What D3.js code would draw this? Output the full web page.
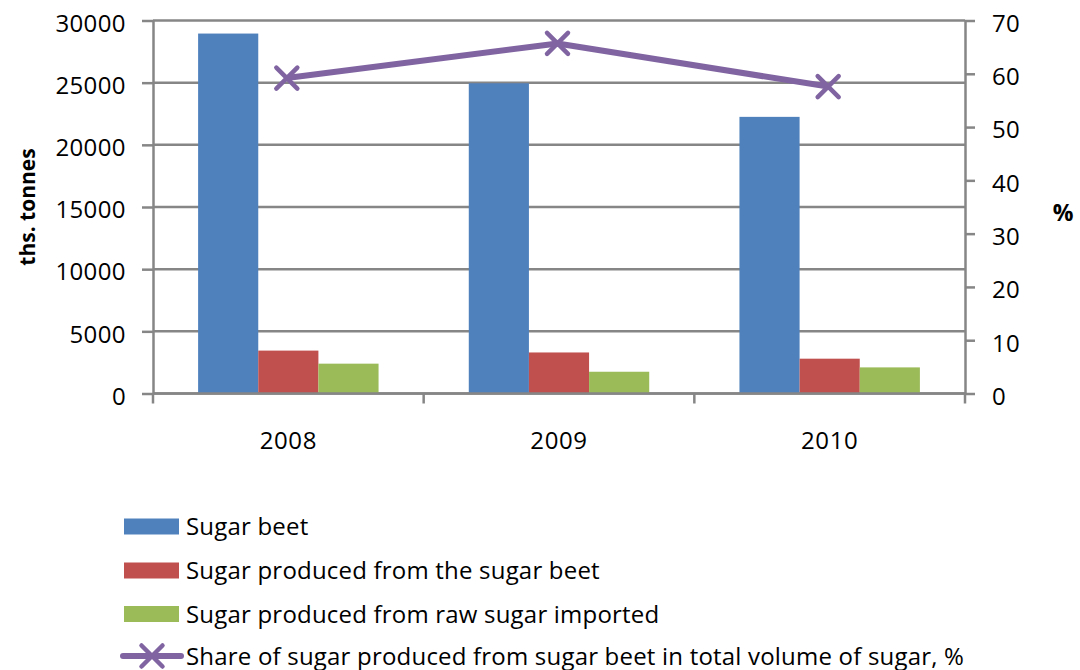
<!DOCTYPE html>
<html>
<head>
<meta charset="utf-8">
<script src="https://cdn.jsdelivr.net/npm/d3@7"></script>
<style>
  body { margin: 0; background: #fff; }
  svg text { font-family: 'Open Sans', sans-serif; fill: #000; }
</style>
</head>
<body>
<div id="chart"></div>
<script>
const years = ['2008', '2009', '2010'];
const seriesNames = [
  'Sugar beet',
  'Sugar produced from the sugar beet',
  'Sugar produced from raw sugar imported'
];
const sugarBeet = [28950, 24950, 22250];
const sugarFromBeet = [3450, 3300, 2800];
const sugarFromRaw = [2400, 1750, 2100];
const shareName = 'Share of sugar produced from sugar beet in total volume of sugar, %';
const shareValues = [59.2, 65.7, 57.6];
const leftTicks = [0, 5000, 10000, 15000, 20000, 25000, 30000];
const rightTicks = [0, 10, 20, 30, 40, 50, 60, 70];

const colors = ['#4F81BD', '#C0504D', '#9BBB59'];
const lineColor = '#8064A2';
const axisColor = '#868686';

const width = 1080;
const height = 670;
const plot = { left: 153, right: 965, top: 20.5, bottom: 393.5 };

const svg = d3.select('#chart')
  .append('svg')
    .attr('width', width)
    .attr('height', height);

svg.append('rect')
  .attr('width', width)
  .attr('height', height)
  .attr('fill', '#fff');

// scales
const x0 = d3.scaleBand()
  .domain(years)
  .range([plot.left, plot.right]);
const x1 = d3.scaleBand()
  .domain(seriesNames)
  .range([0, x0.bandwidth()])
  .paddingInner(0)
  .paddingOuter(0.75);
const y = d3.scaleLinear()
  .domain([0, 30000])
  .range([plot.bottom, plot.top]);
const y2 = d3.scaleLinear()
  .domain([0, 70])
  .range([plot.bottom, plot.top]);

// gridlines
svg.append('g')
  .selectAll('line')
  .data(leftTicks)
  .enter().append('line')
    .attr('x1', plot.left)
    .attr('x2', plot.right)
    .attr('y1', (d) => y(d))
    .attr('y2', (d) => y(d))
    .attr('stroke', axisColor)
    .attr('stroke-width', 2.5);

// bars
const bars = years.map((yr, i) => [
  { year: yr, name: seriesNames[0], value: sugarBeet[i] },
  { year: yr, name: seriesNames[1], value: sugarFromBeet[i] },
  { year: yr, name: seriesNames[2], value: sugarFromRaw[i] }
]).flat();

svg.append('g')
  .selectAll('rect')
  .data(bars)
  .enter().append('rect')
    .attr('x', (d) => x0(d.year) + x1(d.name))
    .attr('width', x1.bandwidth())
    .attr('y', (d) => y(d.value))
    .attr('height', (d) => plot.bottom - y(d.value))
    .attr('fill', (d) => colors[seriesNames.indexOf(d.name)]);

// baseline drawn over the bars
svg.append('line')
  .attr('x1', plot.left)
  .attr('x2', plot.right)
  .attr('y1', plot.bottom)
  .attr('y2', plot.bottom)
  .attr('stroke', axisColor)
  .attr('stroke-width', 2.5);

// left axis
const leftAxis = svg.append('g')
  .attr('transform', 'translate(' + plot.left + ',0)')
  .call(d3.axisLeft(y)
    .tickValues(leftTicks)
    .tickFormat(d3.format('d'))
    .tickSize(11)
    .tickSizeOuter(0)
    .tickPadding(16));

// right axis
const rightAxis = svg.append('g')
  .attr('transform', 'translate(' + plot.right + ',0)')
  .call(d3.axisRight(y2)
    .tickValues(rightTicks)
    .tickSize(10)
    .tickSizeOuter(0)
    .tickPadding(17));

[leftAxis, rightAxis].forEach((g) => {
  g.select('.domain').attr('stroke', axisColor).attr('stroke-width', 2.5);
  g.selectAll('.tick line').attr('stroke', axisColor).attr('stroke-width', 2.5);
  g.selectAll('.tick text')
    .attr('dy', '0.45em')
    .style('font-size', '24px')
    .style('letter-spacing', '0.4px')
    .style('font-family', "'Open Sans', sans-serif");
});

// bottom axis: labels centred, tick marks on the category boundaries
const bottomAxis = svg.append('g')
  .attr('transform', 'translate(0,' + plot.bottom + ')')
  .call(d3.axisBottom(x0).tickSize(0));
bottomAxis.select('.domain').remove();
bottomAxis.selectAll('.tick text')
  .attr('y', 55)
  .attr('dy', 0)
  .style('font-size', '24px')
  .style('letter-spacing', '0.6px')
  .style('font-family', "'Open Sans', sans-serif");

svg.append('g')
  .selectAll('line')
  .data(years.map((yr) => x0(yr)).concat([plot.right]))
  .enter().append('line')
    .attr('x1', (d) => d)
    .attr('x2', (d) => d)
    .attr('y1', plot.bottom)
    .attr('y2', plot.bottom + 10)
    .attr('stroke', axisColor)
    .attr('stroke-width', 2.5);

// axis titles
svg.append('text')
  .attr('transform', 'translate(35,' + ((plot.top + plot.bottom) / 2) + ') rotate(-90)')
  .style('text-anchor', 'middle')
  .style('font-size', '21px')
  .style('font-weight', 'bold')
  .text('ths. tonnes');

svg.append('text')
  .attr('x', 1063)
  .attr('y', 221)
  .style('text-anchor', 'middle')
  .style('font-size', '23px')
  .style('font-weight', 'bold')
  .text('%');

// line series
const linePoints = years.map((yr, i) => ({ x: x0(yr) + x0.bandwidth() / 2 - 1.5, v: shareValues[i] }));
svg.append('path')
  .datum(linePoints)
  .attr('fill', 'none')
  .attr('stroke', lineColor)
  .attr('stroke-width', 6)
  .attr('stroke-linejoin', 'round')
  .attr('d', d3.line().x((d) => d.x).y((d) => y2(d.v)));

function drawCross (g, cx, cy) {
  const r = 10.5;
  g.append('path')
    .attr('d', 'M' + (cx - r) + ',' + (cy - r) + 'L' + (cx + r) + ',' + (cy + r) +
      'M' + (cx - r) + ',' + (cy + r) + 'L' + (cx + r) + ',' + (cy - r))
    .attr('stroke', lineColor)
    .attr('stroke-width', 4.5)
    .attr('stroke-linecap', 'round');
}

const markers = svg.append('g');
linePoints.forEach((d) => drawCross(markers, d.x, y2(d.v)));

// legend
const legendRows = [526.5, 570.5, 614, 656];
const legend = svg.append('g');
seriesNames.forEach((name, i) => {
  legend.append('rect')
    .attr('x', 124)
    .attr('y', legendRows[i] - 8)
    .attr('width', 55)
    .attr('height', 16)
    .attr('fill', colors[i]);
  legend.append('text')
    .attr('x', 186)
    .attr('y', legendRows[i] + 8.5)
    .style('font-size', '24px')
    .style('letter-spacing', '0.2px')
    .text(name);
});
legend.append('line')
  .attr('x1', 123)
  .attr('x2', 181)
  .attr('y1', legendRows[3])
  .attr('y2', legendRows[3])
  .attr('stroke', lineColor)
  .attr('stroke-width', 6)
  .attr('stroke-linecap', 'round');
drawCross(legend, 152, legendRows[3]);
legend.append('text')
  .attr('x', 186)
  .attr('y', legendRows[3] + 8.5)
  .style('font-size', '24px')
  .style('letter-spacing', '0.2px')
  .text(shareName);
</script>
</body>
</html>
